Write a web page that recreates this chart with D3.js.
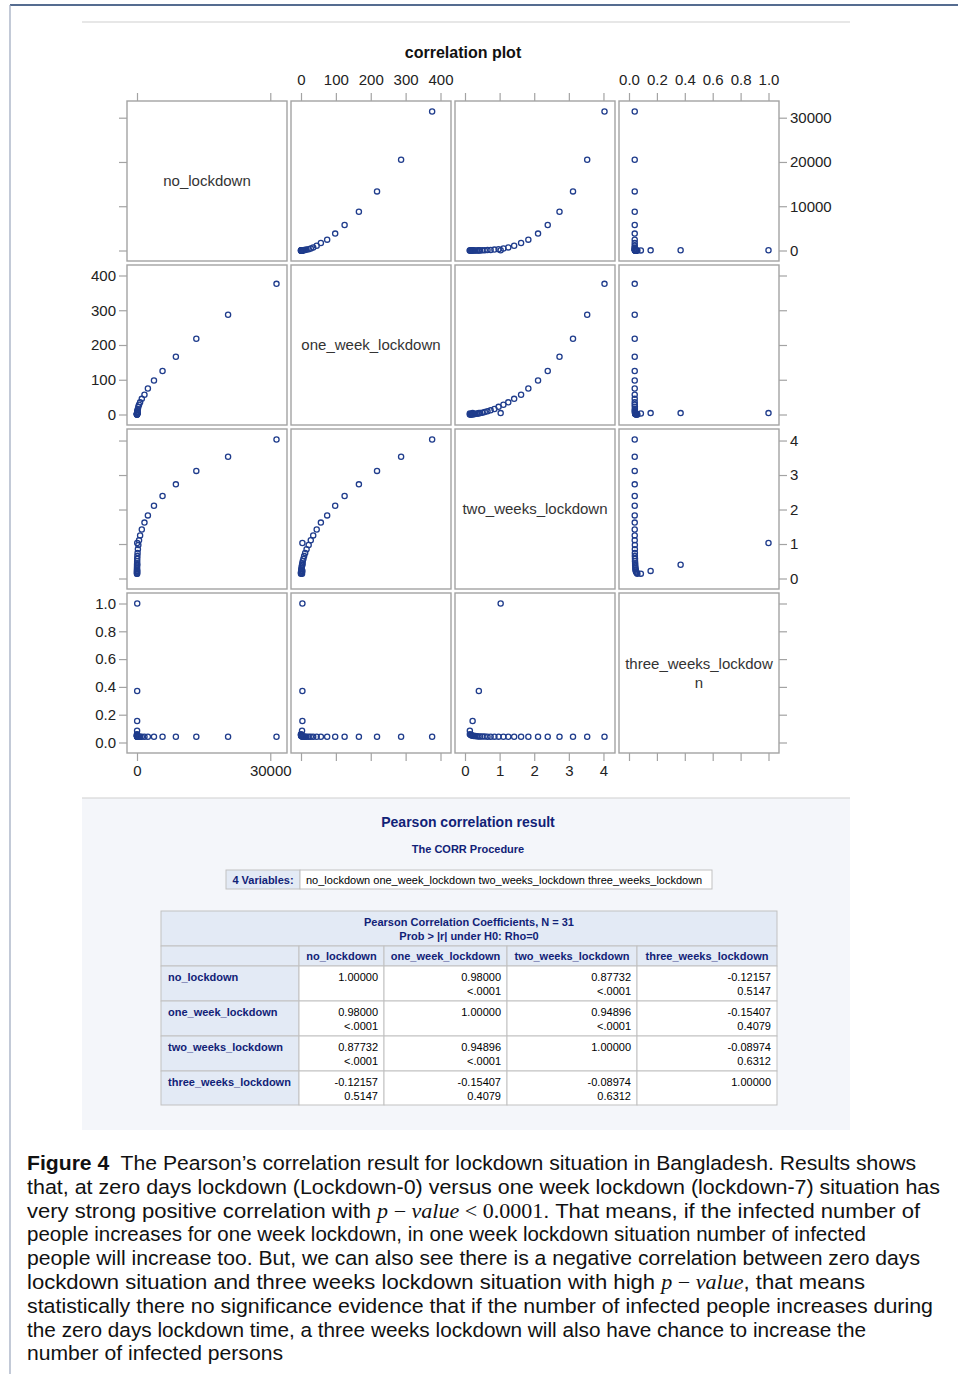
<!DOCTYPE html>
<html>
<head>
<meta charset="utf-8">
<script src="https://cdn.jsdelivr.net/npm/d3@7"></script>
<style>
  body { margin: 0; background: #fff; }
  svg { display: block; }
</style>
</head>
<body>
<div id="chart"></div>
<script>
const variables = ['no_lockdown', 'one_week_lockdown', 'two_weeks_lockdown', 'three_weeks_lockdown'];
const diagLabels = [['no_lockdown'], ['one_week_lockdown'], ['two_weeks_lockdown'], ['three_weeks_lockdow', 'n']];

const noLockdown = [50, 40, 30, 20, 0, 1, 1, 2, 3, 5, 7, 10, 16, 24, 37, 56, 85, 130, 200, 300,
  460, 700, 1080, 1680, 2450, 3820, 5750, 8750, 13350, 20500, 31400];
const oneWeekLockdown = [4, 4, 4, 3, 0, 0, 0, 1, 1, 1, 2, 2, 3, 4, 5, 7, 9, 12, 16, 22,
  28, 35, 45, 57, 75, 98, 125, 166, 218, 287, 376];
const twoWeeksLockdown = [1.03, 0.40, 0.22, 0.14, 0.14, 0.16, 0.18, 0.20, 0.23, 0.26, 0.30, 0.34, 0.39, 0.44, 0.50, 0.57,
  0.65, 0.74, 0.85, 0.97, 1.11, 1.25, 1.42, 1.62, 1.83, 2.11, 2.39, 2.73, 3.12, 3.53, 4.03];
const threeWeeksLockdown = [1.00, 0.37, 0.155, 0.085, 0.060, 0.056, 0.053, 0.050, 0.048, 0.047, 0.046, 0.045, 0.044, 0.044,
  0.043, 0.043, 0.042, 0.042, 0.042, 0.042, 0.041, 0.041, 0.041, 0.041, 0.041, 0.041, 0.041, 0.041, 0.041, 0.041, 0.041];

const series = [noLockdown, oneWeekLockdown, twoWeeksLockdown, threeWeeksLockdown];
const axisMax = [31400, 400, 4.03, 1.0];

// tick values per variable (horizontal / vertical)
const xTicks = [[0, 30000], [0, 100, 200, 300, 400], [0, 1, 2, 3, 4], [0, 0.2, 0.4, 0.6, 0.8, 1.0]];
const yTicks = [[0, 10000, 20000, 30000], [0, 100, 200, 300, 400], [0, 1, 2, 3, 4], [0, 0.2, 0.4, 0.6, 0.8, 1.0]];
const tickFormats = [d3.format('d'), d3.format('d'), d3.format('d'), d3.format('.1f')];

// correlation table
const corrColumns = ['no_lockdown', 'one_week_lockdown', 'two_weeks_lockdown', 'three_weeks_lockdown'];
const corrR = [
  ['1.00000', '0.98000', '0.87732', '-0.12157'],
  ['0.98000', '1.00000', '0.94896', '-0.15407'],
  ['0.87732', '0.94896', '1.00000', '-0.08974'],
  ['-0.12157', '-0.15407', '-0.08974', '1.00000']
];
const corrP = [
  ['', '<.0001', '<.0001', '0.5147'],
  ['<.0001', '', '<.0001', '0.4079'],
  ['<.0001', '<.0001', '', '0.6312'],
  ['0.5147', '0.4079', '0.6312', '']
];

// caption lines (segments: [text, style])
const captionLines = [
  [['Figure 4', 'b'], ['  The Pearson\u2019s correlation result for lockdown situation in Bangladesh. Results shows', 'n']],
  [['that, at zero days lockdown (Lockdown-0) versus one week lockdown (lockdown-7) situation has', 'n']],
  [['very strong positive correlation with ', 'n'], ['p', 'm'], [' \u2212 ', 'r'], ['value', 'm'], [' < 0.0001', 'r'], ['. That means, if the infected number of', 'n']],
  [['people increases for one week lockdown, in one week lockdown situation number of infected', 'n']],
  [['people will increase too. But, we can also see there is a negative correlation between zero days', 'n']],
  [['lockdown situation and three weeks lockdown situation with high ', 'n'], ['p', 'm'], [' \u2212 ', 'r'], ['value', 'm'], [', that means', 'n']],
  [['statistically there no significance evidence that if the number of infected people increases during', 'n']],
  [['the zero days lockdown time, a three weeks lockdown will also have chance to increase the', 'n']],
  [['number of infected persons', 'n']]
];
const captionWidths = [889, 913, 893, 839, 893, 838, 906, 839, 256];

// ---- layout ----
const W = 958, H = 1374;
const left0 = 127, top0 = 101, cell = 160, step = 164;
const markerColor = '#1f3c8c';
const frameColor = '#a3a3a3';
const navy = '#112277';
const sans = '"Liberation Sans", Arial, sans-serif';

const svg = d3.select('#chart').append('svg')
  .attr('width', W).attr('height', H);

// page frame lines
svg.append('line').attr('x1', 10).attr('x2', W).attr('y1', 5).attr('y2', 5)
  .attr('stroke', '#1d3b6b').attr('stroke-width', 1.5);
svg.append('line').attr('x1', 10).attr('x2', 10).attr('y1', 5).attr('y2', H)
  .attr('stroke', '#9aa6bd').attr('stroke-width', 1.2);
svg.append('line').attr('x1', 82).attr('x2', 850).attr('y1', 22).attr('y2', 22)
  .attr('stroke', '#cfcfcf').attr('stroke-width', 1.2);

svg.append('text')
  .attr('x', 463).attr('y', 58)
  .attr('text-anchor', 'middle')
  .attr('font-family', sans).attr('font-size', 16).attr('font-weight', 'bold')
  .attr('fill', '#111')
  .text('correlation plot');

const xScales = series.map((s, i) => d3.scaleLinear().domain([0, axisMax[i]]).range([10, 149.5]));
const yScales = series.map((s, i) => d3.scaleLinear().domain([0, axisMax[i]]).range([cell - 10.5, 10.5]));

const matrix = svg.append('g');

for (let r = 0; r < 4; r++) {
  for (let c = 0; c < 4; c++) {
    const g = matrix.append('g')
      .attr('transform', `translate(${left0 + c * step},${top0 + r * step})`);

    g.append('rect')
      .attr('x', 0).attr('y', 0).attr('width', cell).attr('height', cell)
      .attr('fill', '#fff')
      .attr('stroke', frameColor).attr('stroke-width', 1.4);

    if (r === c) {
      const lines = diagLabels[r];
      g.selectAll('.diag')
        .data(lines)
        .enter()
        .append('text')
        .attr('x', cell / 2)
        .attr('y', (d, i) => cell / 2 + 5 + (i - (lines.length - 1) / 2) * 19)
        .attr('text-anchor', 'middle')
        .attr('font-family', sans).attr('font-size', 15)
        .attr('fill', '#333')
        .text(d => d);
      continue;
    }

    const pts = series[c].map((v, k) => [v, series[r][k]]);
    g.selectAll('circle')
      .data(pts)
      .enter()
      .append('circle')
      .attr('cx', d => xScales[c](d[0]))
      .attr('cy', d => yScales[r](d[1]))
      .attr('r', 2.6)
      .attr('fill', 'none')
      .attr('stroke', markerColor)
      .attr('stroke-width', 1.3);
  }
}

function styleAxis(sel) {
  sel.select('.domain').remove();
  sel.selectAll('.tick line').attr('stroke', frameColor).attr('stroke-width', 1.2);
  sel.selectAll('.tick text').attr('font-family', sans).attr('font-size', 15).attr('fill', '#222');
}

for (let i = 0; i < 4; i++) {
  const labeledTop = (i % 2 === 1);   // columns 2 and 4 labeled on top
  const labeledBottom = (i % 2 === 0); // columns 1 and 3 labeled at bottom
  const labeledLeft = (i % 2 === 1);   // rows 2 and 4 labeled on left
  const labeledRight = (i % 2 === 0);  // rows 1 and 3 labeled on right
  const fmt = tickFormats[i];

  svg.append('g')
    .attr('transform', `translate(${left0 + i * step},${top0})`)
    .call(d3.axisTop(xScales[i]).tickValues(xTicks[i]).tickSize(8).tickPadding(8)
      .tickFormat(labeledTop ? fmt : () => ''))
    .call(styleAxis);

  svg.append('g')
    .attr('transform', `translate(${left0 + i * step},${top0 + 3 * step + cell})`)
    .call(d3.axisBottom(xScales[i]).tickValues(xTicks[i]).tickSize(8).tickPadding(4)
      .tickFormat(labeledBottom ? fmt : () => ''))
    .call(styleAxis);

  svg.append('g')
    .attr('transform', `translate(${left0},${top0 + i * step})`)
    .call(d3.axisLeft(yScales[i]).tickValues(yTicks[i]).tickSize(8).tickPadding(3)
      .tickFormat(labeledLeft ? fmt : () => ''))
    .call(styleAxis);

  svg.append('g')
    .attr('transform', `translate(${left0 + 3 * step + cell},${top0 + i * step})`)
    .call(d3.axisRight(yScales[i]).tickValues(yTicks[i]).tickSize(8).tickPadding(3)
      .tickFormat(labeledRight ? fmt : () => ''))
    .call(styleAxis);
}

// ---- correlation output block ----
const out = svg.append('g');
out.append('rect')
  .attr('x', 82).attr('y', 798).attr('width', 768).attr('height', 332)
  .attr('fill', '#f4f6fa');
out.append('line').attr('x1', 82).attr('x2', 850).attr('y1', 798).attr('y2', 798)
  .attr('stroke', '#cfcfcf').attr('stroke-width', 1.2);

out.append('text')
  .attr('x', 468).attr('y', 827)
  .attr('text-anchor', 'middle')
  .attr('font-family', sans).attr('font-size', 14).attr('font-weight', 'bold')
  .attr('fill', navy)
  .text('Pearson correlation result');
out.append('text')
  .attr('x', 468).attr('y', 853)
  .attr('text-anchor', 'middle')
  .attr('font-family', sans).attr('font-size', 11).attr('font-weight', 'bold')
  .attr('fill', navy)
  .text('The CORR Procedure');

const headBg = '#e3eaf5';
const border = '#c1c1c1';

function cellRect(x, y, w, h, fill) {
  out.append('rect').attr('x', x).attr('y', y).attr('width', w).attr('height', h)
    .attr('fill', fill).attr('stroke', border).attr('stroke-width', 1);
}
function cellText(x, y, txt, anchor, bold, color) {
  out.append('text').attr('x', x).attr('y', y)
    .attr('text-anchor', anchor)
    .attr('font-family', sans).attr('font-size', 11)
    .attr('font-weight', bold ? 'bold' : 'normal')
    .attr('fill', color)
    .text(txt);
}

cellRect(226, 870, 74, 19, headBg);
cellRect(300, 870, 412, 19, '#fff');
cellText(263, 883.5, '4 Variables:', 'middle', true, navy);
cellText(306, 883.5, variables.join(' '), 'start', false, '#000');

const colEdges = [161, 299, 384, 507, 637, 777];
const rowEdges = [911, 946, 966, 1001, 1036, 1071, 1105];

cellRect(colEdges[0], rowEdges[0], colEdges[5] - colEdges[0], rowEdges[1] - rowEdges[0], headBg);
cellText(469, 926, 'Pearson Correlation Coefficients, N = 31', 'middle', true, navy);
cellText(469, 940, 'Prob > |r| under H0: Rho=0', 'middle', true, navy);

cellRect(colEdges[0], rowEdges[1], colEdges[1] - colEdges[0], rowEdges[2] - rowEdges[1], headBg);
corrColumns.forEach((name, j) => {
  const x0 = colEdges[j + 1], x1 = colEdges[j + 2];
  cellRect(x0, rowEdges[1], x1 - x0, rowEdges[2] - rowEdges[1], headBg);
  cellText((x0 + x1) / 2, rowEdges[1] + 14, name, 'middle', true, navy);
});

corrColumns.forEach((name, i) => {
  const y0 = rowEdges[i + 2], y1 = rowEdges[i + 3];
  cellRect(colEdges[0], y0, colEdges[1] - colEdges[0], y1 - y0, headBg);
  cellText(colEdges[0] + 7, y0 + 15, name, 'start', true, navy);
  corrR[i].forEach((val, j) => {
    const x0 = colEdges[j + 1], x1 = colEdges[j + 2];
    cellRect(x0, y0, x1 - x0, y1 - y0, '#fff');
    cellText(x1 - 6, y0 + 15, val, 'end', false, '#000');
    if (corrP[i][j]) cellText(x1 - 6, y0 + 29, corrP[i][j], 'end', false, '#000');
  });
});

// ---- caption ----
const cap = svg.append('g');
captionLines.forEach((segs, i) => {
  const t = cap.append('text')
    .attr('x', 27).attr('y', 1170 + i * 23.8)
    .attr('font-family', '"Liberation Sans Narrow", "Liberation Sans", Arial, sans-serif')
    .attr('font-size', 20.5)
    .attr('fill', '#111')
    .attr('textLength', captionWidths[i])
    .attr('lengthAdjust', 'spacingAndGlyphs')
    .attr('xml:space', 'preserve')
    .style('white-space', 'pre');
  segs.forEach(([txt, kind]) => {
    const ts = t.append('tspan').text(txt);
    if (kind === 'b') ts.attr('font-weight', 'bold');
    if (kind === 'm') ts.attr('font-family', '"Liberation Serif", serif').attr('font-style', 'italic');
    if (kind === 'r') ts.attr('font-family', '"Liberation Serif", serif');
  });
});
</script>
</body>
</html>
